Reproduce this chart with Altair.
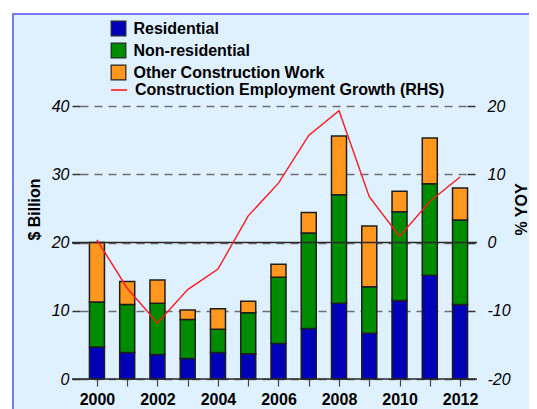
import altair as alt
import pandas as pd

# ---- data ----
years = list(range(2000, 2013))
residential = [4.7, 3.9, 3.6, 3.0, 3.9, 3.7, 5.2, 7.4, 11.1, 6.7, 11.5, 15.2, 10.9]
non_residential = [6.6, 7.0, 7.5, 5.7, 3.4, 6.0, 9.7, 14.0, 15.9, 6.8, 13.0, 13.4, 12.4]
other_work = [8.7, 3.4, 3.4, 1.4, 3.0, 1.7, 1.9, 3.0, 8.6, 8.9, 3.0, 6.7, 4.7]
employment_growth = [0.4, -6.7, -11.8, -6.9, -3.9, 3.9, 8.7, 15.7, 19.3, 6.7, 0.9, 6.0, 9.6]

series_names = ["Residential", "Non-residential", "Other Construction Work"]
series_colors = ["#0000b8", "#008c00", "#ff961e"]
line_name = "Construction Employment Growth (RHS)"
left_ticks = [0, 10, 20, 30, 40]
right_ticks = [-20, -10, 0, 10, 20]

rows = []
for i, yr in enumerate(years):
    for k, (name, vals) in enumerate(zip(series_names, [residential, non_residential, other_work])):
        rows.append({"year": yr, "series": name, "value": vals[i], "order": k})
bars_df = pd.DataFrame(rows)
line_df = pd.DataFrame({"year": years, "growth": employment_growth, "line_series": line_name})
one = pd.DataFrame({"a": [0]})

W, H = 387, 273
FONT = "Liberation Sans"
BG = "#dff0ff"

xscale = alt.Scale(domain=[1999.44, 2012.23], nice=False, zero=False, padding=0)
xaxis = alt.Axis(values=years, tickSize=7, tickColor="#444", tickWidth=1.2,
                 domain=False, grid=False, labelFont=FONT, labelFontWeight="bold",
                 labelFontSize=16, labelColor="#000", labelPadding=5,
                 labelExpr="datum.value % 2 == 0 ? '' + datum.value : ''", title=None)

bars = alt.Chart(bars_df).mark_bar(size=15, stroke="#1e1e1e", strokeWidth=1.5).encode(
    x=alt.X("year:Q", scale=xscale, axis=xaxis),
    y=alt.Y("sum(value):Q", stack="zero",
            scale=alt.Scale(domain=[0, 40], nice=False),
            axis=alt.Axis(values=left_ticks, grid=True, gridDash=[8, 6], gridColor="#6e6e6e",
                          gridWidth=1.5, tickSize=8, tickColor="#333", tickWidth=1.5,
                          domain=False, labelFont=FONT, labelFontStyle="italic",
                          labelFontSize=16, labelColor="#000", labelPadding=3,
                          title="$ Billion", titleFont=FONT, titleFontSize=16,
                          titleFontWeight="bold", titleColor="#000", titleAngle=270,
                          titleX=-46, titleY=103, titleAlign="center",
                          titleBaseline="middle")),
    color=alt.Color("series:N", scale=alt.Scale(domain=series_names, range=series_colors),
                    sort=series_names,
                    legend=alt.Legend(orient="none", legendX=30.5, legendY=-85.5, title=None,
                                      symbolType="square", symbolSize=215,
                                      symbolStrokeColor="#222", symbolStrokeWidth=1.2,
                                      labelFont=FONT, labelFontWeight="bold",
                                      labelFontSize=16, labelColor="#000", labelLimit=0,
                                      labelOffset=7, rowPadding=2, padding=0)),
    order=alt.Order("order:Q", sort="ascending"),
)

rule_df = pd.DataFrame({"v": [0, 20]})
rules = alt.Chart(rule_df).mark_rule(color="#2a2a2a", strokeWidth=1.6).encode(
    y=alt.Y("v:Q"),
    x=alt.value(-8), x2=alt.value(W + 10),
)

# decorative panel edge (white page strip + blue frame at left/top)
strip_left = alt.Chart(one).mark_rect(color="white").encode(
    x=alt.value(-72), x2=alt.value(-68), y=alt.value(-98), y2=alt.value(H + 40))
strip_top = alt.Chart(one).mark_rect(color="white").encode(
    x=alt.value(-72), x2=alt.value(W + 80), y=alt.value(-98), y2=alt.value(-93))
frame_left = alt.Chart(one).mark_rule(color="#7878f8", strokeWidth=2).encode(
    x=alt.value(-67), y=alt.value(-93), y2=alt.value(H + 40))
frame_top = alt.Chart(one).mark_rule(color="#7878f8", strokeWidth=2).encode(
    x=alt.value(-68), x2=alt.value(W + 80), y=alt.value(-92))

left = alt.layer(strip_left, strip_top, frame_left, frame_top, bars, rules)

line = alt.Chart(line_df).mark_line(strokeWidth=1.4).encode(
    x=alt.X("year:Q", scale=xscale, axis=xaxis),
    y=alt.Y("growth:Q", scale=alt.Scale(domain=[-20, 20], nice=False),
            axis=alt.Axis(orient="right", values=right_ticks, grid=False, tickSize=8,
                          tickColor="#333", tickWidth=1.5, domain=False,
                          labelFont=FONT, labelFontStyle="italic", labelFontSize=16,
                          labelColor="#000", labelPadding=12,
                          labelExpr="'' + datum.value",
                          title="% YOY", titleFont=FONT, titleFontSize=16,
                          titleFontWeight="bold", titleColor="#000", titleAngle=270,
                          titleX=54, titleY=103, titleAlign="center",
                          titleBaseline="middle")),
    stroke=alt.Stroke("line_series:N", scale=alt.Scale(domain=[line_name], range=["#ff1a1a"]),
                      legend=alt.Legend(orient="none", legendX=30, legendY=-25, title=None,
                                        symbolType="stroke", symbolSize=256,
                                        symbolStrokeWidth=1.6, labelLimit=0,
                                        labelFont=FONT, labelFontWeight="bold",
                                        labelFontSize=16, labelColor="#000",
                                        labelOffset=7, padding=0)),
)

chart = alt.layer(left, line).resolve_scale(y="independent").properties(
    width=W, height=H,
    padding={"left": 72, "top": 98, "right": 62, "bottom": 30},
    autosize=alt.AutoSizeParams(type="none"),
    background=BG,
).configure_view(stroke=None)

chart.save("out.html", embed_options={"renderer": "svg", "actions": False})
